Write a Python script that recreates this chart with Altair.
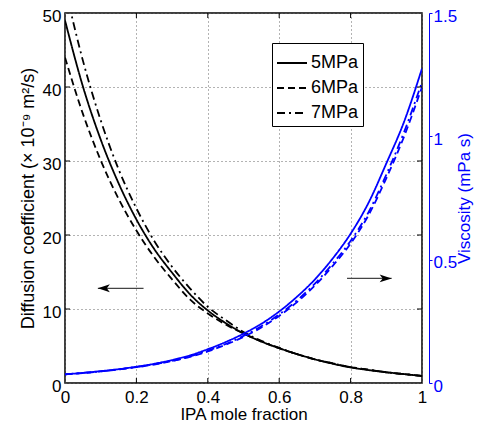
import altair as alt
import pandas as pd

# ---------------- data ----------------
x_frac = [0.00, 0.05, 0.10, 0.15, 0.20, 0.25, 0.30, 0.35, 0.40, 0.45, 0.50,
          0.55, 0.60, 0.65, 0.70, 0.75, 0.80, 0.85, 0.90, 0.95, 1.00]
diff_5 = [49.0, 40.1, 32.9, 27.0, 22.1, 18.1, 14.9, 12.0, 9.8, 8.1, 6.7,
          5.6, 4.7, 3.9, 3.2, 2.6, 2.1, 1.75, 1.45, 1.2, 0.95]
diff_6 = [44.0, 36.4, 30.1, 24.9, 20.6, 17.0, 14.0, 11.3, 9.4, 7.9, 6.7,
          5.6, 4.7, 3.9, 3.2, 2.65, 2.15, 1.8, 1.45, 1.2, 0.95]
diff_7 = [53.5, 43.6, 35.5, 28.9, 23.6, 19.2, 15.7, 12.8, 10.3, 8.5, 6.9,
          5.7, 4.75, 3.9, 3.2, 2.65, 2.15, 1.8, 1.45, 1.2, 0.95]
visc_5 = [0.035, 0.041, 0.048, 0.056, 0.066, 0.078, 0.093, 0.112, 0.137, 0.166, 0.200,
          0.240, 0.290, 0.350, 0.420, 0.505, 0.605, 0.730, 0.890, 1.060, 1.275]
visc_6 = [0.035, 0.040, 0.047, 0.055, 0.064, 0.075, 0.089, 0.106, 0.128, 0.155, 0.187,
          0.225, 0.272, 0.328, 0.395, 0.475, 0.565, 0.680, 0.830, 1.000, 1.200]
visc_7 = [0.035, 0.041, 0.047, 0.055, 0.065, 0.076, 0.090, 0.108, 0.131, 0.158, 0.191,
          0.230, 0.278, 0.335, 0.403, 0.484, 0.576, 0.692, 0.845, 1.018, 1.220]
pressures = ["5MPa", "6MPa", "7MPa"]

x_tick_values = [0, 0.2, 0.4, 0.6, 0.8, 1]
x_inner_ticks = [0.2, 0.4, 0.6, 0.8]
d_tick_values = [0, 10, 20, 30, 40, 50]
d_inner_ticks = [10, 20, 30, 40]
v_tick_values = [0, 0.5, 1, 1.5]

# arrows (data units): tail x, head x, level
arrow_left = {"x_tail": 0.22, "x_head": 0.092, "level": 12.8}   # diffusion scale
arrow_right = {"x_tail": 0.79, "x_head": 0.915, "level": 0.424}  # viscosity scale

# ---------------- tables ----------------
df_d = pd.DataFrame(
    [{"x": xv, "D": dv, "P": p}
     for p, series in zip(pressures, [diff_5, diff_6, diff_7])
     for xv, dv in zip(x_frac, series)]
)
df_v = pd.DataFrame(
    [{"x": xv, "V": vv, "P": p}
     for p, series in zip(pressures, [visc_5, visc_6, visc_7])
     for xv, vv in zip(x_frac, series)]
)
df_xt = pd.DataFrame({"t": x_inner_ticks})
df_dt = pd.DataFrame({"t": d_inner_ticks})
df_al = pd.DataFrame({"x": [arrow_left["x_tail"]], "x2": [arrow_left["x_head"]],
                      "y": [arrow_left["level"]]})
df_ar = pd.DataFrame({"x": [arrow_right["x_tail"]], "x2": [arrow_right["x_head"]],
                      "y": [arrow_right["level"]]})

FONT = "Liberation Sans"
W, H = 357, 370
BLUE = "#0000FF"

xs = alt.Scale(domain=[0, 1], nice=False, zero=False)
ys_l = alt.Scale(domain=[0, 50], nice=False)
ys_r = alt.Scale(domain=[0, 1.5], nice=False)
dash_scale = alt.Scale(domain=pressures, range=[[1, 0], [7, 4], [8, 4, 2, 4]])

legend = alt.Legend(
    title=None, orient="none", legendX=207, legendY=30, direction="vertical",
    symbolType="stroke", symbolSize=900, symbolStrokeWidth=2,
    symbolStrokeColor="black", labelFontSize=18, labelFont=FONT,
    labelColor="black", labelOffset=3, strokeColor="black", fillColor="white",
    padding=4, rowPadding=-6.5, cornerRadius=0,
)

x_axis = alt.Axis(
    values=x_tick_values, format=".1~f", labelFontSize=17, labelFont=FONT,
    labelColor="black", labelPadding=6, labelFlush=False, ticks=False,
    domain=False, grid=True, gridDash=[1, 3], gridColor="#666",
    title="IPA mole fraction", titleFontSize=17, titleFont=FONT,
    titleFontWeight="normal", titleColor="black",
    titleBaseline="alphabetic", titleY=36.5,
)
yl_axis = alt.Axis(
    orient="left", values=d_tick_values, format="d", labelFontSize=17,
    labelFont=FONT, labelColor="black", labelPadding=4, labelOffset=3,
    ticks=False, domain=False, grid=True, gridDash=[1, 3], gridColor="#666",
    title="Diffusion coefficient (× 10⁻⁹ m²/s)", titleFontSize=18,
    titleFont=FONT, titleFontWeight="normal", titleColor="black",
    titlePadding=5,
)
yr_axis = alt.Axis(
    orient="right", offset=7, values=v_tick_values, format="~g",
    labelFontSize=17, labelFont=FONT, labelColor=BLUE, labelPadding=1,
    labelOffset=3, tickSize=3, tickColor=BLUE, domainColor=BLUE,
    domainWidth=1, grid=False, title="Viscosity (mPa s)", titleFontSize=17,
    titleFont=FONT, titleFontWeight="normal", titleColor=BLUE,
    titleAngle=270, titleBaseline="top", titlePadding=0,
)

black_lines = alt.Chart(df_d).mark_line(
    color="black", strokeWidth=1.8, clip=True, interpolate="monotone"
).encode(
    x=alt.X("x:Q", scale=xs, axis=x_axis),
    y=alt.Y("D:Q", scale=ys_l, axis=yl_axis),
    strokeDash=alt.StrokeDash("P:N", scale=dash_scale, legend=legend),
    detail="P:N",
)

blue_lines = alt.Chart(df_v).mark_line(
    color=BLUE, strokeWidth=1.8, clip=True, interpolate="monotone"
).encode(
    x=alt.X("x:Q", scale=xs, axis=x_axis),
    y=alt.Y("V:Q", scale=ys_r, axis=yr_axis),
    strokeDash=alt.StrokeDash("P:N", scale=dash_scale, legend=None),
    detail="P:N",
)

tick_bottom = alt.Chart(df_xt).mark_rule(color="black", strokeWidth=1).encode(
    x=alt.X("t:Q", scale=xs, axis=x_axis), y=alt.value(H), y2=alt.value(H - 5))
tick_top = alt.Chart(df_xt).mark_rule(color="black", strokeWidth=1).encode(
    x=alt.X("t:Q", scale=xs, axis=x_axis), y=alt.value(0), y2=alt.value(5))
tick_left = alt.Chart(df_dt).mark_rule(color="black", strokeWidth=1).encode(
    y=alt.Y("t:Q", scale=ys_l, axis=None), x=alt.value(0), x2=alt.value(5))
tick_right = alt.Chart(df_dt).mark_rule(color="black", strokeWidth=1).encode(
    y=alt.Y("t:Q", scale=ys_l, axis=None), x=alt.value(W), x2=alt.value(W - 5))

arrow_l_line = alt.Chart(df_al).mark_rule(color="#444", strokeWidth=1.2).encode(
    x=alt.X("x:Q", scale=xs, axis=x_axis), x2="x2:Q",
    y=alt.Y("y:Q", scale=ys_l, axis=None))
arrow_l_head = alt.Chart(df_al).mark_point(
    shape="M0,0L2,-0.66L1.5,0L2,0.66Z", filled=True, color="black",
    size=144, opacity=1).encode(
    x=alt.X("x2:Q", scale=xs, axis=x_axis), y=alt.Y("y:Q", scale=ys_l, axis=None))
arrow_r_line = alt.Chart(df_ar).mark_rule(color="#444", strokeWidth=1.2).encode(
    x=alt.X("x:Q", scale=xs, axis=x_axis), x2="x2:Q",
    y=alt.Y("y:Q", scale=ys_r, axis=None))
arrow_r_head = alt.Chart(df_ar).mark_point(
    shape="M0,0L-2,-0.66L-1.5,0L-2,0.66Z", filled=True, color="black",
    size=144, opacity=1).encode(
    x=alt.X("x2:Q", scale=xs, axis=x_axis), y=alt.Y("y:Q", scale=ys_r, axis=None))

chart = alt.layer(
    black_lines, blue_lines,
    tick_bottom, tick_top, tick_left, tick_right,
    arrow_l_line, arrow_l_head, arrow_r_line, arrow_r_head,
).resolve_scale(
    y="independent"
).properties(
    width=W, height=H,
    padding={"left": 57, "top": 5, "right": 52, "bottom": 40},
    autosize=alt.AutoSizeParams(type="none"),
    background="white",
).configure(
    font=FONT
).configure_view(
    stroke="black", strokeWidth=1.5
)

chart.save("out.html", embed_options={"renderer": "svg", "actions": False})
